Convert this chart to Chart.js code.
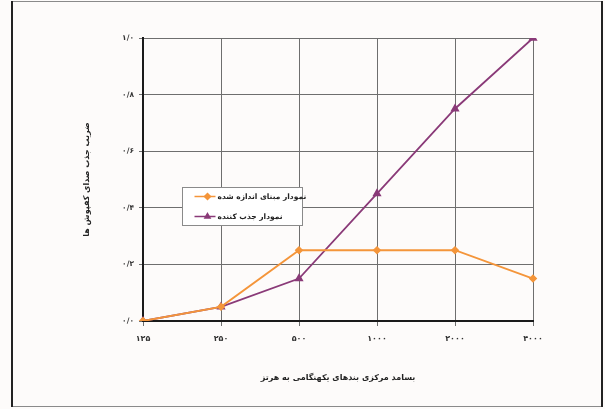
<!DOCTYPE html>
<html lang="fa">
<head>
<meta charset="utf-8">
<script src="https://cdn.jsdelivr.net/npm/chart.js@4"></script>
<style>
    html, body { margin: 0; padding: 0; background: #ffffff; }
    #absorbChart { display: block; }
</style>
</head>
<body>
<canvas id="absorbChart" width="605" height="409"></canvas>
<script>
// بسامدهای مرکزی (هرتز) و مقادیر ضریب جذب
const frequencies = ['۱۲۵', '۲۵۰', '۵۰۰', '۱۰۰۰', '۲۰۰۰', '۴۰۰۰'];
const baseValues = [0, 0.05, 0.25, 0.25, 0.25, 0.15];
const absorberValues = [0, 0.05, 0.15, 0.45, 0.75, 1.0];
const yTickLabels = ['۰/۰', '۰/۲', '۰/۴', '۰/۶', '۰/۸', '۱/۰'];

const seriesNames = ['نمودار مبنای اندازه شده', 'نمودار جذب کننده'];
const xTitle = 'بسامد مرکزی بندهای یکهنگامی به هرتز';
const yTitle = 'ضریب جذب صدای کفپوش ها';

const FONT = "'DejaVu Sans', sans-serif";

// قاب دور تصویر
const framePlugin = {
    id: 'frame',
    beforeDraw(chart) {
        const ctx = chart.ctx;
        ctx.save();
        ctx.fillStyle = '#fdfbfa';
        ctx.fillRect(0, 0, chart.width, chart.height);
        ctx.strokeStyle = '#8a8a8a';
        ctx.lineWidth = 1;
        ctx.strokeRect(12.5, 1.5, 590, 405);
        ctx.strokeStyle = '#222';
        ctx.lineWidth = 2;
        ctx.beginPath();
        ctx.moveTo(12, 1);
        ctx.lineTo(12, 407);
        ctx.moveTo(602, 1);
        ctx.lineTo(602, 407);
        ctx.stroke();
        ctx.restore();
    }
};

// راهنمای داخل ناحیه نمودار
const boxLegend = {
    id: 'boxLegend',
    afterDraw(chart) {
        const ctx = chart.ctx;
        const x = 182.5, y = 187.5, w = 120, h = 38;
        ctx.save();
        ctx.fillStyle = '#ffffff';
        ctx.fillRect(x, y, w, h);
        ctx.strokeStyle = '#8a8a8a';
        ctx.lineWidth = 1;
        ctx.strokeRect(x, y, w, h);
        chart.data.datasets.forEach((ds, i) => {
            const ly = y + 9 + i * 20;
            ctx.strokeStyle = ds.borderColor;
            ctx.lineWidth = 1.5;
            ctx.beginPath();
            ctx.moveTo(x + 12, ly);
            ctx.lineTo(x + 33, ly);
            ctx.stroke();
            ctx.fillStyle = ds.pointBackgroundColor;
            Chart.helpers.drawPoint(ctx, {
                pointStyle: ds.pointStyle,
                radius: 3,
                borderWidth: 1
            }, x + 25, ly);
            ctx.fillStyle = '#222';
            ctx.font = 'bold 7.5px ' + FONT;
            ctx.textBaseline = 'middle';
            ctx.textAlign = 'left';
            ctx.fillText(ds.label, x + 35, ly + 0.5);
        });
        ctx.restore();
    }
};

const ctx = document.getElementById('absorbChart').getContext('2d');
const absorbChart = new Chart(ctx, {
    type: 'line',
    data: {
        labels: frequencies,
        datasets: [
            {
                label: seriesNames[0],
                data: baseValues,
                borderColor: '#f4953a',
                backgroundColor: '#f4953a',
                pointBackgroundColor: '#f4953a',
                pointBorderColor: '#f4953a',
                pointStyle: 'rectRot',
                pointRadius: 3,
                borderWidth: 1.8,
                tension: 0,
                fill: false
            },
            {
                label: seriesNames[1],
                data: absorberValues,
                borderColor: '#8a3a78',
                backgroundColor: '#8a3a78',
                pointBackgroundColor: '#8a3a78',
                pointBorderColor: '#8a3a78',
                pointStyle: 'triangle',
                pointRadius: 3.5,
                borderWidth: 1.8,
                tension: 0,
                fill: false
            }
        ]
    },
    options: {
        responsive: false,
        animation: false,
        devicePixelRatio: 1,
        layout: {
            padding: { top: 38, right: 72, bottom: 0, left: 0 }
        },
        scales: {
            x: {
                type: 'category',
                offset: false,
                grid: {
                    color: '#6e6e6e',
                    lineWidth: 1,
                    tickLength: 5,
                    offset: false
                },
                border: { color: '#1a1a1a', width: 2 },
                ticks: {
                    color: '#333',
                    padding: 8,
                    maxRotation: 0,
                    font: { family: FONT, size: 8, weight: 'bold' }
                },
                title: {
                    display: true,
                    text: xTitle,
                    color: '#222',
                    padding: { top: 0, bottom: 26 },
                    font: { family: FONT, size: 8, weight: 'bold' }
                },
                afterFit(scale) { scale.height = 88; }
            },
            y: {
                min: 0,
                max: 1,
                grid: {
                    color: '#6e6e6e',
                    lineWidth: 1,
                    tickLength: 4
                },
                border: { color: '#1a1a1a', width: 2 },
                ticks: {
                    stepSize: 0.2,
                    color: '#333',
                    padding: 5,
                    font: { family: FONT, size: 7.5, weight: 'bold' },
                    callback: (value, index) => yTickLabels[index]
                },
                title: {
                    display: true,
                    text: yTitle,
                    color: '#222',
                    padding: { top: 82, bottom: 0 },
                    font: { family: FONT, size: 8, weight: 'bold' }
                },
                afterFit(scale) { scale.width = 143; }
            }
        },
        plugins: {
            legend: { display: false },
            tooltip: { enabled: false }
        }
    },
    plugins: [framePlugin, boxLegend]
});
</script>
</body>
</html>
